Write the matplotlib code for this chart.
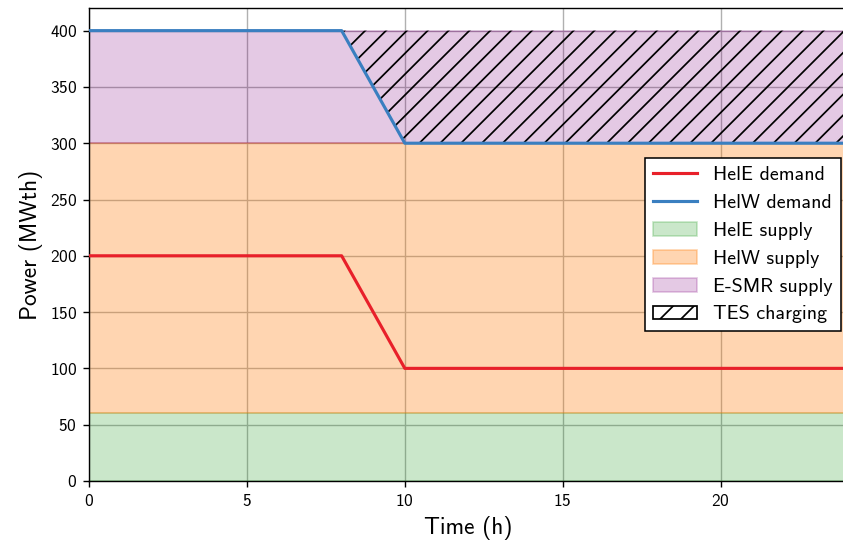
import numpy as np
import matplotlib
matplotlib.use("Agg")
import matplotlib.pyplot as plt
from matplotlib.patches import Patch

plt.rcParams['font.family'] = ['cmss10', 'DejaVu Sans']
plt.rcParams['axes.formatter.use_mathtext'] = True

# time breakpoints (h) and demands (MWth)
t = [0, 8, 10, 24]
hele_demand = [200, 200, 100, 100]
helw_demand = [400, 400, 300, 300]

# supply levels (MWth)
hele_supply = 60
helw_supply = 300
esmr_supply = 400

dpi = 125
fig = plt.figure(figsize=(843 / dpi, 541 / dpi), dpi=dpi)
ax = fig.add_axes([0.1056, 0.111, 0.899, 0.874])

ax.fill_between(t, 0, hele_supply, color='tab:green', alpha=0.25, label='HelE supply', zorder=1)
ax.fill_between(t, hele_supply, helw_supply, color='tab:orange', alpha=0.32, label='HelW supply', zorder=1)
ax.fill_between(t, helw_supply, esmr_supply, color='purple', alpha=0.21, label='E-SMR supply', zorder=1)
ax.fill_between(t, helw_demand, esmr_supply, facecolor='none', edgecolor='black',
                hatch='//', linewidth=0, zorder=2)

ax.plot(t, hele_demand, color='#e8202a', lw=1.8, label='HelE demand', zorder=3)
ax.plot(t, helw_demand, color='#3a7fc0', lw=1.8, label='HelW demand', zorder=3)

ax.set_xlim(0, 24)
ax.set_ylim(0, 420)
ax.set_xticks([0, 5, 10, 15, 20])
ax.set_yticks(range(0, 401, 50))
ax.tick_params(labelsize=10)
ax.grid(True, color='#b0b0b0', lw=0.8, zorder=0)
ax.set_axisbelow(True)
ax.set_xlabel('Time (h)', fontsize=13.5)
ax.set_ylabel('Power (MWth)', fontsize=13.5)

h, l = ax.get_legend_handles_labels()
tes = Patch(facecolor='none', edgecolor='black', hatch='//', label='TES charging')
order = [3, 4, 0, 1, 2]
handles = [h[i] for i in order] + [tes]
labels = [l[i] for i in order] + ['TES charging']
leg = ax.legend(handles, labels, fontsize=11.5, handlelength=2.2,
                loc='center right', bbox_to_anchor=(0.992, 0.5), borderaxespad=0,
                fancybox=False, edgecolor='black', framealpha=1)
leg.get_frame().set_linewidth(0.9)

fig.savefig('out.png', dpi=dpi)
